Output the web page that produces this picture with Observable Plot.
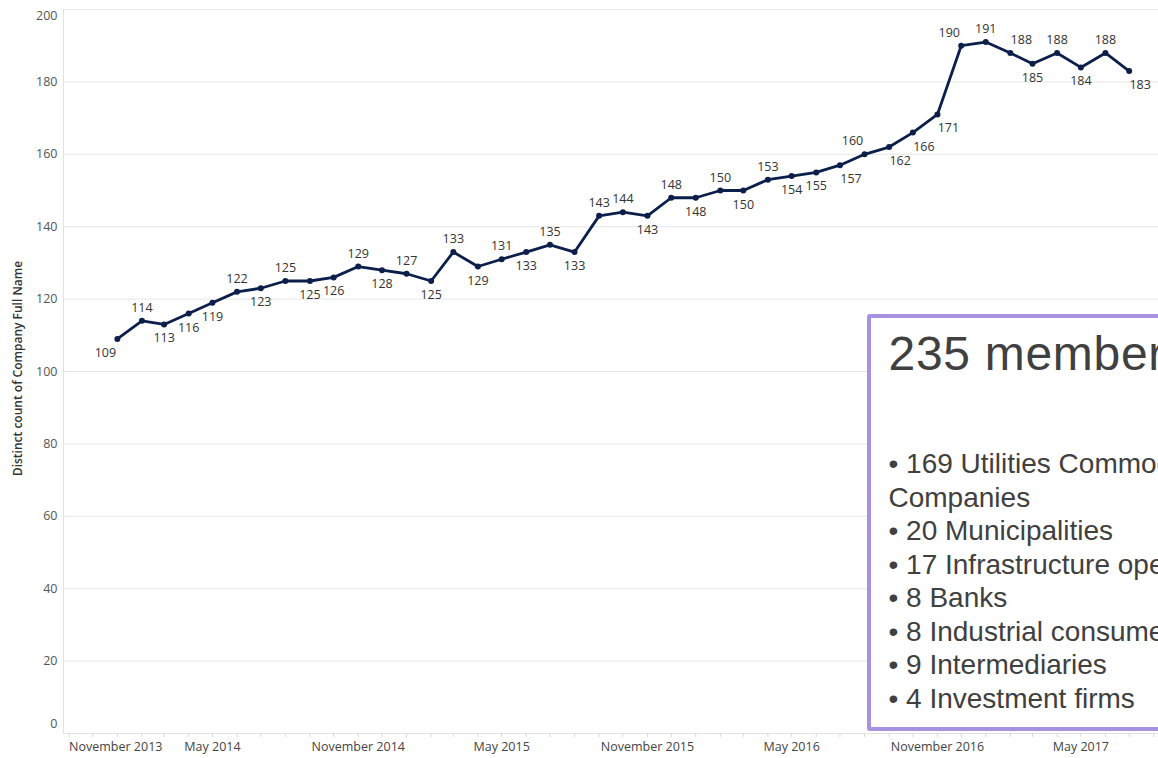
<!DOCTYPE html>
<html>
<head>
<meta charset="utf-8">
<script src="https://cdn.jsdelivr.net/npm/d3@7"></script>
<script src="https://cdn.jsdelivr.net/npm/@observablehq/plot@0.6"></script>
<style>
  html, body { margin: 0; padding: 0; background: #fff; }
  body { width: 1158px; height: 758px; overflow: hidden; position: relative; }
  #chart { position: absolute; left: 0; top: 0; }
  #note {
    position: absolute; left: 867px; top: 314px; width: 420px; height: 409px;
    border: 4.5px solid #a891e0; border-radius: 3px; background: #fff;
    font-family: "Liberation Sans", Arial, sans-serif; color: #404040;
    white-space: nowrap;
  }
  #note .title { position: absolute; left: 17.5px; top: 12px; font-size: 48px; line-height: 48px; letter-spacing: 0.7px; }
  #note .list { position: absolute; left: 17.5px; top: 129px; font-size: 28px; line-height: 33.5px; }
</style>
</head>
<body>
<div id="chart"></div>
<div id="note">
  <div class="title">235 members</div>
  <div class="list">
    <div>• 169 Utilities Commodity Trading</div>
    <div>Companies</div>
    <div>• 20 Municipalities</div>
    <div>• 17 Infrastructure operators</div>
    <div>• 8 Banks</div>
    <div>• 8 Industrial consumers</div>
    <div>• 9 Intermediaries</div>
    <div>• 4 Investment firms</div>
  </div>
</div>
<script>
// ---- data ----
const months = [
  "2014-01","2014-02","2014-03","2014-04","2014-05","2014-06","2014-07","2014-08","2014-09","2014-10","2014-11","2014-12",
  "2015-01","2015-02","2015-03","2015-04","2015-05","2015-06","2015-07","2015-08","2015-09","2015-10","2015-11","2015-12",
  "2016-01","2016-02","2016-03","2016-04","2016-05","2016-06","2016-07","2016-08","2016-09","2016-10","2016-11","2016-12",
  "2017-01","2017-02","2017-03","2017-04","2017-05","2017-06","2017-07"
];
const counts = [
  109,114,113,116,119,122,123,125,125,126,129,128,
  127,125,133,129,131,133,135,133,143,144,143,148,
  148,150,150,153,154,155,157,160,162,166,171,190,
  191,188,185,188,184,188,183
];
// label placement relative to each point: a = above, b = below, al/bl/ar/br = shifted left/right
const labelSide = [
  "bl","a","b","b","b","a","b","a","b","b","a","b",
  "a","b","a","b","a","b","a","b","a","a","b","a",
  "b","a","b","a","b","b","br","al","br","br","br","al",
  "a","ar","b","a","b","a","br"
];
const xTickMonths = ["2013-11","2014-05","2014-11","2015-05","2015-11","2016-05","2016-11","2017-05"];
const yTicks = [0,20,40,60,80,100,120,140,160,180,200];
const yTitle = "Distinct count of Company Full Name";

// ---- build ----
const parse = d3.utcParse("%Y-%m");
const fmt = d3.utcFormat("%B %Y");
const data = months.map((m, i) => ({date: parse(m), value: counts[i], side: labelSide[i]}));
const xTicks = xTickMonths.map(parse);

const lineColor = "#0c1f4a";
const offsets = {
  a: [0, -13], b: [0, 14], al: [-12, -13], ar: [11, -13], bl: [-12, 14], br: [11, 14]
};
const labelMarks = Object.entries(offsets).map(([k, [dx, dy]]) =>
  Plot.text(data.filter(d => d.side === k), {
    x: "date", y: "value", text: d => String(d.value),
    dx, dy, fill: "#333", fontSize: 12.5
  })
);

const chart = Plot.plot({
  width: 1158,
  height: 758,
  marginLeft: 63,
  marginRight: 0,
  marginTop: 9,
  marginBottom: 25,
  style: {fontFamily: "'Open Sans', 'Noto Sans', sans-serif", background: "#fff"},
  x: {type: "utc", domain: [new Date(Date.UTC(2013, 9, 25)), new Date(Date.UTC(2017, 7, 7))], axis: null},
  y: {domain: [0, 200], axis: null},
  marks: [
    Plot.gridY(yTicks, {stroke: "#e6e6e6", strokeOpacity: 1}),
    Plot.frame({anchor: "left", stroke: "#e2e2e2"}),
    Plot.frame({anchor: "bottom", stroke: "#e2e2e2"}),
    Plot.axisX({ticks: d3.utcMonth.every(1), tickSize: 4, tickFormat: () => "", stroke: "#d8d8d8", tickPadding: 0}),
    Plot.text(yTicks.filter(v => v > 0 && v < 200), {y: d => d, frameAnchor: "left", textAnchor: "end", dx: -6, fill: "#555", fontSize: 12.5}),
    Plot.text([200], {y: d => d, frameAnchor: "left", textAnchor: "end", dx: -6, dy: 6, fill: "#555", fontSize: 12.5}),
    Plot.text([0], {y: d => d, frameAnchor: "left", textAnchor: "end", dx: -6, dy: -10, fill: "#555", fontSize: 12.5}),
    Plot.text(xTicks.slice(0, 1), {x: d => d, frameAnchor: "bottom", textAnchor: "start", dy: 17, text: d => fmt(d), fill: "#444", fontSize: 12.5}),
    Plot.text(xTicks.slice(1), {x: d => d, frameAnchor: "bottom", dy: 17, text: d => fmt(d), fill: "#444", fontSize: 12.5}),
    Plot.text([yTitle], {frameAnchor: "left", textAnchor: "middle", rotate: -90, dx: -45, dy: -3, fill: "#333", fontSize: 12, fontWeight: 600}),
    Plot.line(data, {x: "date", y: "value", stroke: lineColor, strokeWidth: 2.8}),
    Plot.dot(data, {x: "date", y: "value", r: 3, fill: lineColor}),
    ...labelMarks
  ]
});
document.getElementById("chart").appendChild(chart);
</script>
</body>
</html>
